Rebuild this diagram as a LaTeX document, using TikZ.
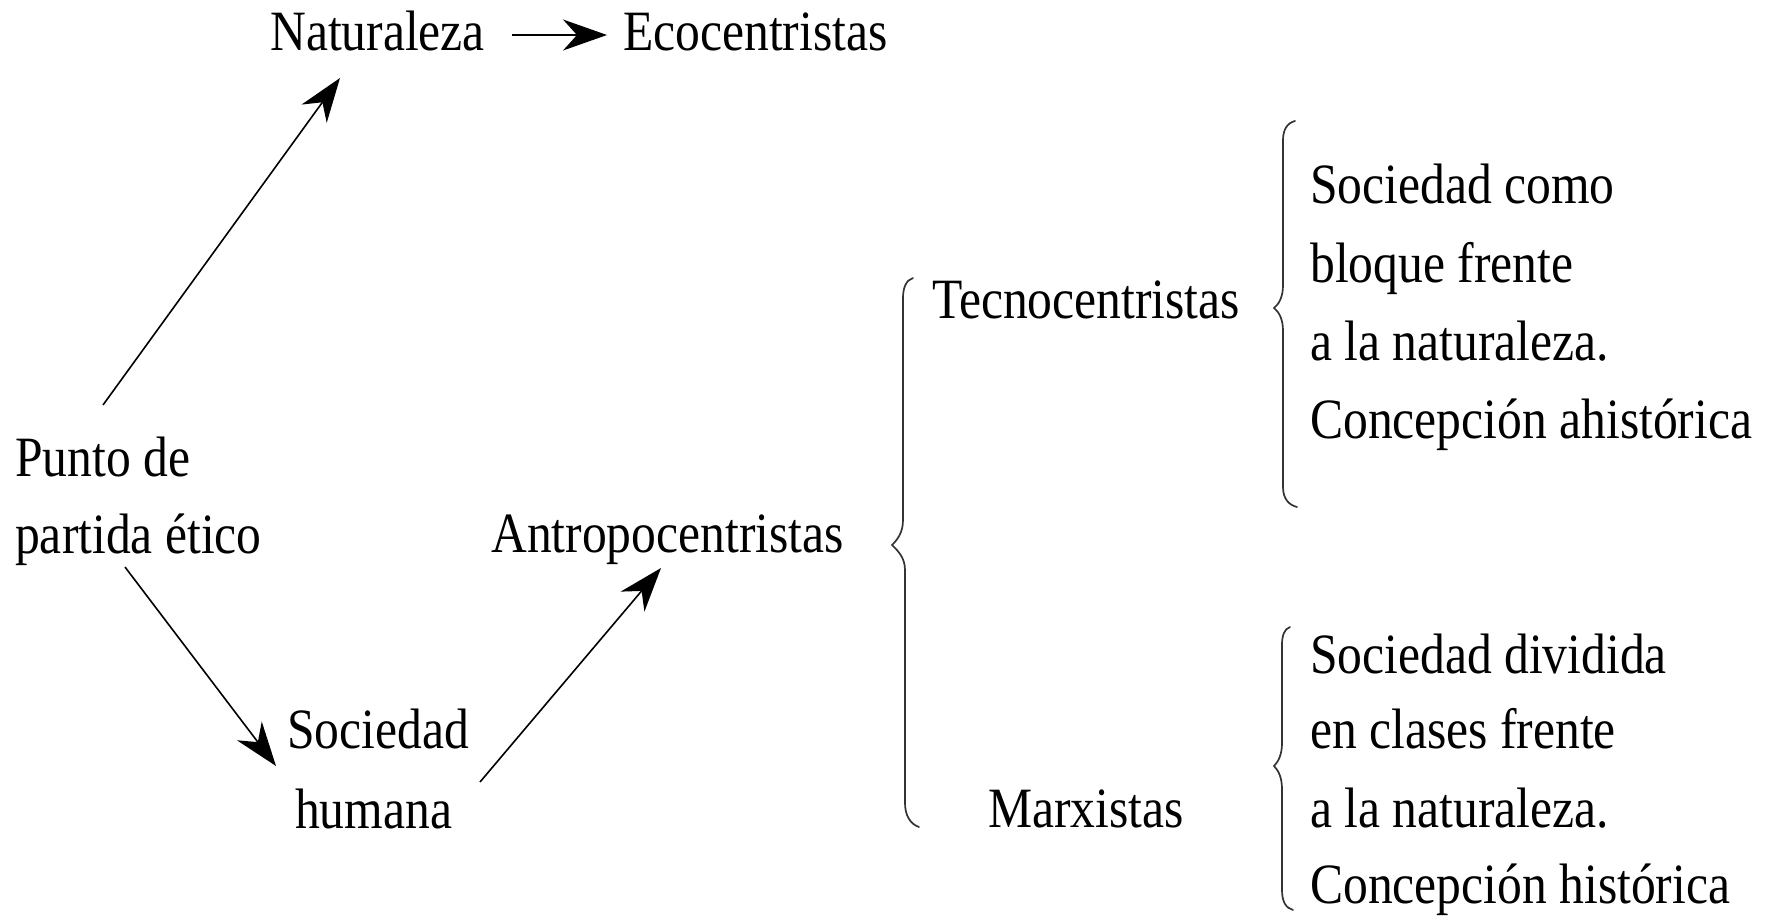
\documentclass[tikz,border=0pt]{standalone}
\usepackage{fontspec}
\setmainfont[FakeStretch=0.87]{Liberation Serif}
\usetikzlibrary{arrows.meta}
\begin{document}
\begin{tikzpicture}[x=1pt,y=-1pt,
  txt/.style={anchor=base west, inner sep=0pt, font=\fontsize{57}{68}\selectfont},
  arr/.style={line width=1.6pt, -{Stealth[length=44pt,width=31pt,inset=14pt]}},
  bracepath/.style={line width=1.7pt, draw=black!80, line cap=round}]
\useasboundingbox (0,0) rectangle (1777,919);

% text nodes
\node[txt] (nat) at (270,50) {Naturaleza};
\node[txt] (eco) at (623,50) {Ecocentristas};
\node[txt] (punto) at (15,476) {Punto de};
\node[txt] (partida) at (15,553) {partida ético};
\node[txt] (soc) at (287,748) {Sociedad};
\node[txt] (hum) at (295,828) {humana};
\node[txt] (antro) at (491,552) {Antropocentristas};
\node[txt] (tecno) at (932,318) {Tecnocentristas};
\node[txt] (marx) at (988,827) {Marxistas};
\node[txt] (t1) at (1310,203) {Sociedad como};
\node[txt] (t2) at (1310,282) {bloque frente};
\node[txt] (t3) at (1310,360) {a la naturaleza.};
\node[txt] (t4) at (1310,438) {Concepción ahistórica};
\node[txt] (m1) at (1310,673) {Sociedad dividida};
\node[txt] (m2) at (1310,748) {en clases frente};
\node[txt] (m3) at (1310,827) {a la naturaleza.};
\node[txt] (m4) at (1310,903) {Concepción histórica};

% connectors
\draw[arr] ([shift={(27pt,15pt)}]nat.base east) -- ([shift={(-16pt,15pt)}]eco.base west);
\draw[arr] ([shift={(88pt,71pt)}]punto.base west) -- ([shift={(70pt,-28pt)}]nat.base west);
\draw[arr] ([shift={(110pt,-14pt)}]partida.base west) -- ([shift={(-11pt,-18pt)}]soc.base west);
\draw[arr] ([shift={(185pt,46pt)}]hum.base west) -- ([shift={(170pt,-16pt)}]antro.base west);

% braces
\draw[bracepath] (913,278) .. controls (906,280) and (903,288) .. (903,298)
  -- (903,520) .. controls (903,533) and (897,540) .. (892,545)
  .. controls (897,550) and (905,557) .. (905,570)
  -- (905,803) .. controls (905,815) and (910,824) .. (919,827);
\draw[bracepath] (1295,121) .. controls (1287,123) and (1283,130) .. (1283,140)
  -- (1283,285) .. controls (1283,297) and (1279,304) .. (1274,308)
  .. controls (1279,312) and (1283,319) .. (1283,331)
  -- (1283,487) .. controls (1283,499) and (1289,505) .. (1297,507);
\draw[bracepath] (1290,627) .. controls (1284,629) and (1282,636) .. (1282,645)
  -- (1282,743) .. controls (1282,755) and (1278,762) .. (1274,766)
  .. controls (1278,770) and (1282,777) .. (1282,789)
  -- (1282,890) .. controls (1282,902) and (1286,908) .. (1293,910);
\end{tikzpicture}
\end{document}
